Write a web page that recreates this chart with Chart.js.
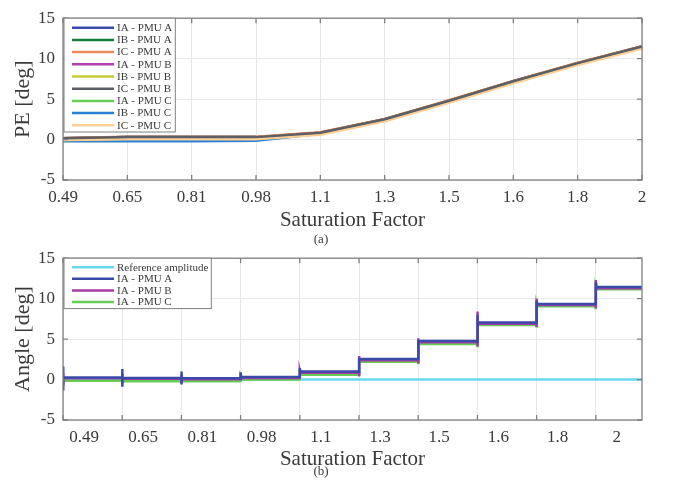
<!DOCTYPE html>
<html>
<head>
<meta charset="utf-8">
<script src="https://cdn.jsdelivr.net/npm/chart.js@4.4.0/dist/chart.umd.min.js"></script>
<style>
    html, body { margin: 0; padding: 0; background: #fff; }
    #wrap { position: relative; width: 692px; height: 481px; overflow: hidden; }
    .panel { position: absolute; left: 0; width: 692px; }
    #topPanel { top: 0; height: 250px; }
    #bottomPanel { top: 240px; height: 241px; }
</style>
</head>
<body>
<div id="wrap">
    <div class="panel" id="topPanel"><canvas id="peChart"></canvas></div>
    <div class="panel" id="bottomPanel"><canvas id="angleChart"></canvas></div>
</div>
<script>
// Saturation factors (shared by both panels)
const factorLabels = ['0.49', '0.65', '0.81', '0.98', '1.1', '1.3', '1.5', '1.6', '1.8', '2'];
const yTicks = [-5, 0, 5, 10, 15];

// Panel (a): phase error per channel [deg]
const peIaA = [0.15, 0.3, 0.3, 0.3, 0.85, 2.5, 4.8, 7.2, 9.45, 11.5];
const peIbA = [0.15, 0.3, 0.3, 0.3, 0.85, 2.5, 4.8, 7.2, 9.45, 11.5];
const peIcA = [0.2, 0.35, 0.35, 0.35, 0.9, 2.55, 4.85, 7.25, 9.5, 11.55];
const peIaB = [0.1, 0.25, 0.25, 0.25, 0.8, 2.45, 4.75, 7.15, 9.4, 11.45];
const peIbB = [0.1, 0.25, 0.25, 0.25, 0.8, 2.45, 4.75, 7.15, 9.4, 11.45];
const peIcB = [0.15, 0.3, 0.3, 0.3, 0.85, 2.5, 4.8, 7.2, 9.45, 11.5];
const peIaC = [-0.05, 0.1, 0.1, 0.15, 0.7, 2.35, 4.65, 7.05, 9.3, 11.35];
const peIbC = [-0.2, -0.2, -0.2, -0.15, 0.7, 2.35, 4.65, 7.05, 9.3, 11.35];
const peIcC = [-0.05, 0.05, 0.05, 0.05, 0.6, 2.25, 4.55, 6.95, 9.2, 11.25];

// Panel (b): settled angle, overshoot peak and dip at each step [deg]
const stepEnd = 9.78;
const refLevel = [0, 0, 0, 0, 0, 0, 0, 0, 0, 0];
const levelA = [0.25, 0.2, 0.15, 0.3, 1.0, 2.55, 4.75, 7.05, 9.35, 11.45];
const levelB = [0.15, 0.1, 0.05, 0.2, 0.85, 2.4, 4.6, 6.9, 9.2, 11.3];
const levelC = [-0.15, -0.2, -0.2, 0.0, 0.6, 2.2, 4.4, 6.75, 9.05, 11.15];
const peakA = [1.6, 1.3, 1.0, 0.9, 1.4, 2.7, 4.9, 8.0, 9.7, 12.0];
const peakB = [0.8, 0.7, 0.6, 0.5, 1.1, 2.9, 5.1, 8.4, 10.0, 12.3];
const peakC = [0.2, 0.1, 0.1, 0.2, 0.7, 2.4, 4.6, 7.0, 9.3, 11.4];
const dipA = [-1.2, -0.9, -0.6, -0.1, 0.3, 0.8, 2.4, 4.5, 6.8, 9.2];
const dipB = [-0.6, -0.5, -0.4, -0.1, 0.1, 0.4, 2.0, 4.1, 6.5, 8.8];
const dipC = [-0.4, -0.4, -0.4, -0.3, -0.1, 0.4, 1.9, 4.0, 6.4, 8.7];

const serif = "'Liberation Serif', 'Times New Roman', serif";
const textColor = '#3a3a3a';
const gridColor = '#e6e8ea';
const boxColor = '#808080';

// Turn per-step levels into a step trace on a linear x axis (one unit per step)
function stepTrace(levels, peaks, dips) {
    const pts = [];
    levels.forEach((lvl, k) => {
        const end = k === levels.length - 1 ? stepEnd : k + 1;
        if (peaks) {
            pts.push({ x: k, y: dips[k] });
            pts.push({ x: k, y: peaks[k] });
            pts.push({ x: k + 0.008, y: lvl });
        } else {
            pts.push({ x: k, y: lvl });
        }
        pts.push({ x: end, y: lvl });
    });
    return pts;
}

// Axes box with MATLAB-style inward tick marks
const axesBox = {
    id: 'axesBox',
    afterDatasetsDraw(chart) {
        const { ctx, chartArea: a, scales } = chart;
        ctx.save();
        ctx.strokeStyle = boxColor;
        ctx.lineWidth = 1.3;
        ctx.beginPath();
        scales.x.ticks.forEach((t, i) => {
            const px = scales.x.getPixelForTick(i);
            ctx.moveTo(px, a.bottom); ctx.lineTo(px, a.bottom - 5);
            ctx.moveTo(px, a.top); ctx.lineTo(px, a.top + 5);
        });
        scales.y.ticks.forEach((t, i) => {
            const py = scales.y.getPixelForTick(i);
            ctx.moveTo(a.left, py); ctx.lineTo(a.left + 5, py);
            ctx.moveTo(a.right, py); ctx.lineTo(a.right - 5, py);
        });
        ctx.stroke();
        ctx.strokeRect(a.left, a.top, a.right - a.left, a.bottom - a.top);
        ctx.restore();
    }
};

// Legend box drawn inside the top-left corner of the plot
const insetLegend = {
    id: 'insetLegend',
    afterDatasetsDraw(chart, args, opts) {
        const { ctx, chartArea: a } = chart;
        const sets = chart.data.datasets;
        ctx.save();
        ctx.font = '11px ' + serif;
        const textW = Math.max(...sets.map(d => ctx.measureText(d.label).width));
        const x0 = a.left + 1, y0 = a.top;
        const w = 54 + textW + 2;
        const h = opts.rowGap * sets.length + 4;
        ctx.fillStyle = '#fff';
        ctx.fillRect(x0, y0, w, h);
        ctx.strokeStyle = boxColor;
        ctx.lineWidth = 1;
        ctx.strokeRect(x0, y0, w, h);
        ctx.textBaseline = 'middle';
        sets.forEach((d, i) => {
            const y = y0 + opts.firstRow + i * opts.rowGap;
            ctx.strokeStyle = d.borderColor;
            ctx.lineWidth = 2.5;
            ctx.beginPath();
            ctx.moveTo(x0 + 8, y);
            ctx.lineTo(x0 + 50, y);
            ctx.stroke();
            ctx.fillStyle = textColor;
            ctx.fillText(d.label, x0 + 53, y + 0.5);
        });
        ctx.restore();
    }
};

function yAxis(title) {
    return {
        min: -5,
        max: 15,
        afterBuildTicks: s => { s.ticks = yTicks.map(v => ({ value: v })); },
        afterFit: s => { s.width = 63; },
        grid: { color: gridColor, drawTicks: false },
        border: { display: false },
        ticks: { padding: 8, color: textColor, font: { family: serif, size: 17 } },
        title: {
            display: true, text: title, color: textColor,
            font: { family: serif, size: 22, lineHeight: 1 },
            padding: { top: 12, bottom: 0 }
        }
    };
}

function baseOptions(caption, xAxis, xHeight, titlePad, legendRows) {
    xAxis.afterFit = s => { s.height = xHeight; };
    xAxis.grid = { color: gridColor, drawTicks: false };
    xAxis.border = { display: false };
    xAxis.title = {
        display: true, text: 'Saturation Factor', color: textColor,
        font: { family: serif, size: 21, lineHeight: 1 },
        padding: { top: 0, bottom: titlePad }
    };
    return {
        responsive: true,
        maintainAspectRatio: false,
        animation: false,
        devicePixelRatio: 1,
        layout: { padding: { top: 13, right: 50, left: 0, bottom: 0 } },
        elements: { point: { radius: 0 }, line: { tension: 0 } },
        scales: { x: xAxis, y: yAxis(caption.yTitle) },
        plugins: {
            legend: { display: false },
            tooltip: { enabled: false },
            subtitle: {
                display: true, position: 'bottom', text: caption.text, color: textColor,
                font: { family: serif, size: 13, lineHeight: 1 },
                padding: { top: 0, bottom: caption.pad }
            },
            insetLegend: legendRows
        }
    };
}

// Panel (a)
const peColors = ['#3a4aa8', '#17803a', '#ef8a5a', '#b040b0', '#c8cc3a', '#5c6066', '#66d055', '#2a80d0', '#ffcf95'];
const peLabels = ['IA - PMU A', 'IB - PMU A', 'IC - PMU A', 'IA - PMU B', 'IB - PMU B', 'IC - PMU B', 'IA - PMU C', 'IB - PMU C', 'IC - PMU C'];
const peSeries = [peIaA, peIbA, peIcA, peIaB, peIbB, peIcB, peIaC, peIbC, peIcC];
const peOrder = [6, 7, 1, 5, 4, 0, 3, 8, 2];

new Chart(document.getElementById('peChart'), {
    type: 'line',
    data: {
        labels: factorLabels,
        datasets: peSeries.map((vals, i) => ({
            label: peLabels[i],
            data: vals,
            borderColor: peColors[i],
            borderWidth: 2.5,
            order: peOrder[i]
        }))
    },
    options: baseOptions(
        { text: '(a)', pad: 4, yTitle: 'PE [deg]' },
        { type: 'category', offset: false, ticks: { padding: 7, color: textColor, autoSkip: false, maxRotation: 0, font: { family: serif, size: 17 } } },
        53, 2.5,
        { rowGap: 12.2, firstRow: 9.5 }
    ),
    plugins: [axesBox, insetLegend]
});

// Panel (b)
const angleSeries = [
    { label: 'Reference amplitude', data: stepTrace(refLevel), color: '#68d8ee', order: 4 },
    { label: 'IA - PMU A', data: stepTrace(levelA, peakA, dipA), color: '#3a4aa8', order: 1 },
    { label: 'IA - PMU B', data: stepTrace(levelB, peakB, dipB), color: '#a83aa8', order: 2 },
    { label: 'IA - PMU C', data: stepTrace(levelC, peakC, dipC), color: '#66cc55', order: 3 }
];

new Chart(document.getElementById('angleChart'), {
    type: 'line',
    data: {
        datasets: angleSeries.map(s => ({
            label: s.label,
            data: s.data,
            borderColor: s.color,
            borderWidth: 2.5,
            order: s.order
        }))
    },
    options: baseOptions(
        { text: '(b)', pad: 2.5, yTitle: 'Angle [deg]' },
        {
            type: 'linear', min: 0, max: stepEnd,
            afterBuildTicks: s => { s.ticks = factorLabels.map((l, i) => ({ value: i })); },
            ticks: {
                padding: 7, labelOffset: 21, color: textColor, autoSkip: false, maxRotation: 0,
                font: { family: serif, size: 17 },
                callback: (v, i) => factorLabels[i]
            }
        },
        45.5, -4,
        { rowGap: 11.6, firstRow: 9 }
    ),
    plugins: [axesBox, insetLegend]
});
</script>
</body>
</html>
